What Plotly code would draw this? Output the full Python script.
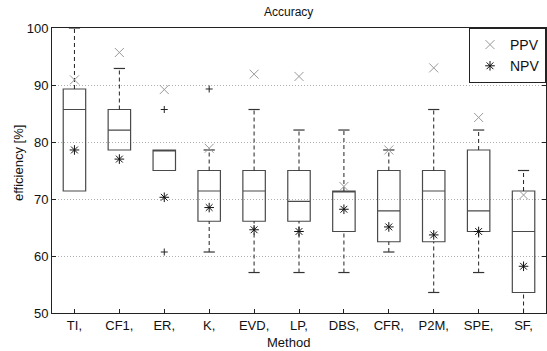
import plotly.graph_objects as go

# Methods compared
methods = ["TI,", "CF1,", "ER,", "K,", "EVD,", "LP,", "DBS,", "CFR,", "P2M,", "SPE,", "SF,"]

# Box-plot statistics per method (efficiency in %)
q1 = [71.4, 78.6, 75.0, 66.1, 66.1, 66.1, 64.3, 62.5, 62.5, 64.3, 53.6]
median = [85.7, 82.1, 78.6, 71.4, 71.4, 69.6, 71.4, 67.9, 71.4, 67.9, 64.3]
q3 = [89.3, 85.7, 78.6, 75.0, 75.0, 75.0, 71.4, 75.0, 75.0, 78.6, 71.4]
whisker_low = [71.4, 78.6, 75.0, 60.7, 57.1, 57.1, 57.1, 60.7, 53.6, 57.1, 46.4]
whisker_high = [100.0, 92.9, 78.6, 78.6, 85.7, 82.1, 82.1, 78.6, 85.7, 82.1, 75.0]

# Outliers (method index, value)
outlier_idx = [2, 2, 3]
outlier_val = [85.7, 60.7, 89.3]

# Overall PPV / NPV per method
ppv = [90.9, 95.7, 89.2, 78.9, 91.9, 91.5, 72.2, 78.6, 93.0, 84.3, 70.7]
npv = [78.6, 77.0, 70.3, 68.5, 64.6, 64.3, 68.2, 65.1, 63.7, 64.3, 58.2]

pos = list(range(1, len(methods) + 1))
box_color = "#4a4a4a"
font = "Liberation Sans, Arial, sans-serif"

fig = go.Figure()

# Boxes (whiskers drawn separately so they can be dashed)
fig.add_trace(go.Box(
    x=pos, q1=q1, median=median, q3=q3,
    lowerfence=q1, upperfence=q3,
    width=0.5, whiskerwidth=0,
    fillcolor="rgba(255,255,255,0)",
    line=dict(color=box_color, width=1.2),
    boxpoints=False, showlegend=False, hoverinfo="skip",
))

# Dashed whiskers with solid caps
wx, wy = [], []
cx, cy = [], []
cap = 0.125
for p, lo, a, b, hi in zip(pos, whisker_low, q1, q3, whisker_high):
    if hi > b:
        wx += [p, p, None]
        wy += [b, hi, None]
        cx += [p - cap, p + cap, None]
        cy += [hi, hi, None]
    if lo < a:
        wx += [p, p, None]
        wy += [lo, a, None]
        cx += [p - cap, p + cap, None]
        cy += [lo, lo, None]

fig.add_trace(go.Scatter(
    x=wx, y=wy, mode="lines",
    line=dict(color="#222222", width=1, dash="4px,3px"),
    showlegend=False, hoverinfo="skip",
))
fig.add_trace(go.Scatter(
    x=cx, y=cy, mode="lines",
    line=dict(color="#333333", width=1.2),
    showlegend=False, hoverinfo="skip",
))

# Outliers
fig.add_trace(go.Scatter(
    x=[pos[i] for i in outlier_idx], y=outlier_val, mode="markers",
    marker=dict(symbol="cross-thin-open", size=5, color="#222222",
                line=dict(color="#222222", width=1)),
    showlegend=False, hoverinfo="skip",
))

# PPV and NPV markers
fig.add_trace(go.Scatter(
    x=pos, y=ppv, mode="markers", name="PPV",
    marker=dict(symbol="x-thin-open", size=9, color="#999999",
                line=dict(color="#999999", width=1)),
))
fig.add_trace(go.Scatter(
    x=pos, y=npv, mode="markers", name="NPV",
    marker=dict(symbol="asterisk-open", size=8, color="#111111",
                line=dict(color="#111111", width=1)),
))

fig.update_layout(
    width=547, height=351,
    margin=dict(l=52, r=1, t=28, b=38),
    plot_bgcolor="white", paper_bgcolor="white",
    font=dict(family=font, size=13, color="#111111"),
    legend=dict(
        x=1, y=1, xanchor="right", yanchor="top",
        bordercolor="#222222", borderwidth=1, bgcolor="white",
        font=dict(size=14), tracegroupgap=0, itemwidth=30,
    ),
    annotations=[
        dict(text="Accuracy", x=0.478, y=1.056, xref="paper", yref="paper",
             showarrow=False, font=dict(size=12), xanchor="center", yanchor="middle"),
        dict(text="Method", x=0.478, y=-0.102, xref="paper", yref="paper",
             showarrow=False, font=dict(size=13), xanchor="center", yanchor="middle"),
        dict(text="efficiency [%]", x=-0.069, y=0.526, xref="paper", yref="paper",
             showarrow=False, font=dict(size=13), textangle=-90,
             xanchor="center", yanchor="middle"),
    ],
)

fig.update_xaxes(
    range=[0.5, 11.5], tickmode="array", tickvals=pos, ticktext=methods,
    showgrid=False, zeroline=False,
    showline=True, linecolor="#222222", linewidth=1, mirror=True,
    ticks="inside", ticklen=4, tickcolor="#222222",
    tickfont=dict(size=13),
)
fig.update_yaxes(
    range=[50, 100], dtick=10, tick0=50,
    showgrid=True, gridcolor="#b0b0b0", griddash="1px,2px", gridwidth=1,
    zeroline=False,
    showline=True, linecolor="#222222", linewidth=1, mirror="ticks",
    ticks="inside", ticklen=4, tickcolor="#222222",
    tickfont=dict(size=13),
)

fig.write_html("out.html")
